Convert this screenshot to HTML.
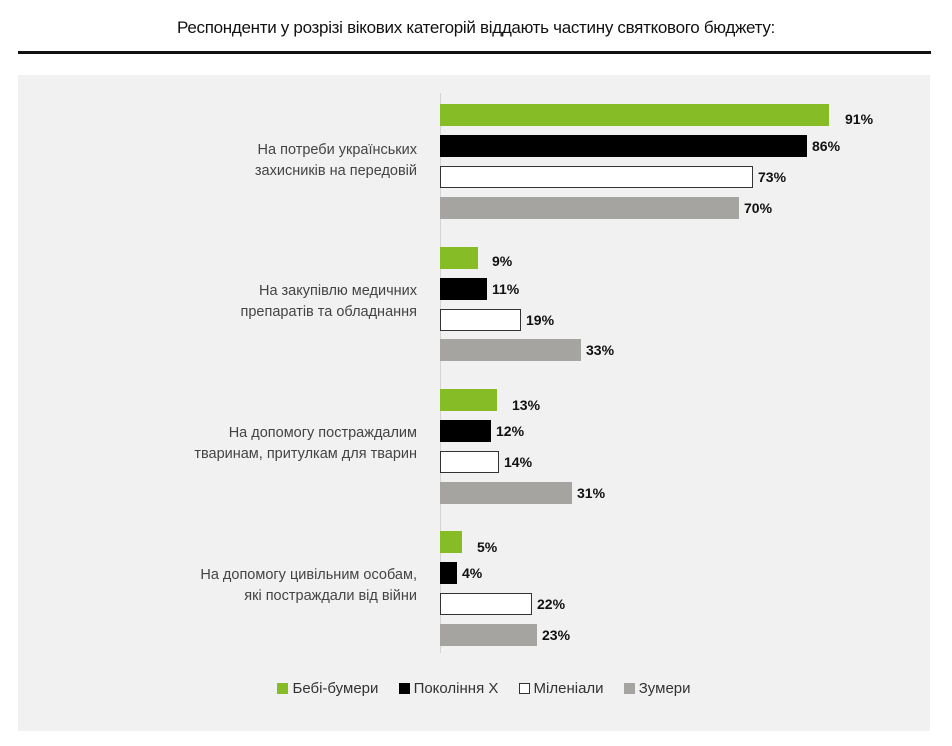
<!DOCTYPE html>
<html><head><meta charset="utf-8"><style>
body{margin:0;width:952px;height:746px;background:#fff;font-family:"Liberation Sans",sans-serif;position:relative;overflow:hidden}
.t{position:absolute;left:0;width:952px;top:18px;text-align:center;font-size:17px;color:#111;letter-spacing:-0.3px}
.hr{position:absolute;left:18px;width:913px;top:51px;height:3px;background:#111}
.p{position:absolute;left:18px;top:75px;width:912px;height:656px;background:#f1f1f1}
.ax{position:absolute;left:440px;top:93px;width:1px;height:560px;background:#d4d4d4}
.b{position:absolute;left:440px;height:22px;box-sizing:border-box}
.g{background:#86bc25}.k{background:#000}.w{background:#fff;border:1.5px solid #333}.s{background:#a5a4a0}
.v{position:absolute;font-weight:bold;font-size:14px;color:#111}
.c{position:absolute;right:535px;text-align:right;font-size:14.5px;color:#444;line-height:21px}
.lg{position:absolute;top:680px;left:0;width:952px;text-align:center;font-size:15px;color:#333}
.lg span{display:inline-block;width:11px;height:11px;margin:0 4px 0 16px;vertical-align:-1px;box-sizing:border-box}
</style></head><body>
<div class="t">Респонденти у розрізі вікових категорій віддають частину святкового бюджету:</div>
<div class="hr"></div>
<div class="p"></div>
<div class="ax"></div>

<div class="c" style="top:140px">На потреби українських<br>захисників на передовій</div>
<div class="c" style="top:281px">На закупівлю медичних<br>препаратів та обладнання</div>
<div class="c" style="top:423px">На допомогу постраждалим<br>тваринам, притулкам для тварин</div>
<div class="c" style="top:565px">На допомогу цивільним особам,<br>які постраждали від війни</div>

<div class="b g" style="top:104px;width:389px"></div><div class="v" style="top:111px;left:845px">91%</div>
<div class="b k" style="top:135px;width:367px"></div><div class="v" style="top:138px;left:812px">86%</div>
<div class="b w" style="top:166px;width:313px"></div><div class="v" style="top:169px;left:758px">73%</div>
<div class="b s" style="top:197px;width:299px"></div><div class="v" style="top:200px;left:744px">70%</div>

<div class="b g" style="top:247px;width:38px"></div><div class="v" style="top:253px;left:492px">9%</div>
<div class="b k" style="top:278px;width:47px"></div><div class="v" style="top:281px;left:492px">11%</div>
<div class="b w" style="top:309px;width:81px"></div><div class="v" style="top:312px;left:526px">19%</div>
<div class="b s" style="top:339px;width:141px"></div><div class="v" style="top:342px;left:586px">33%</div>

<div class="b g" style="top:389px;width:57px"></div><div class="v" style="top:397px;left:512px">13%</div>
<div class="b k" style="top:420px;width:51px"></div><div class="v" style="top:423px;left:496px">12%</div>
<div class="b w" style="top:451px;width:59px"></div><div class="v" style="top:454px;left:504px">14%</div>
<div class="b s" style="top:482px;width:132px"></div><div class="v" style="top:485px;left:577px">31%</div>

<div class="b g" style="top:531px;width:22px"></div><div class="v" style="top:539px;left:477px">5%</div>
<div class="b k" style="top:562px;width:17px"></div><div class="v" style="top:565px;left:462px">4%</div>
<div class="b w" style="top:593px;width:92px"></div><div class="v" style="top:596px;left:537px">22%</div>
<div class="b s" style="top:624px;width:97px"></div><div class="v" style="top:627px;left:542px">23%</div>

<div class="lg"><span class="g"></span>Бебі-бумери <span class="k"></span>Покоління Х <span class="w" style="border-width:1px"></span>Міленіали <span class="s"></span>Зумери</div>
</body></html>
